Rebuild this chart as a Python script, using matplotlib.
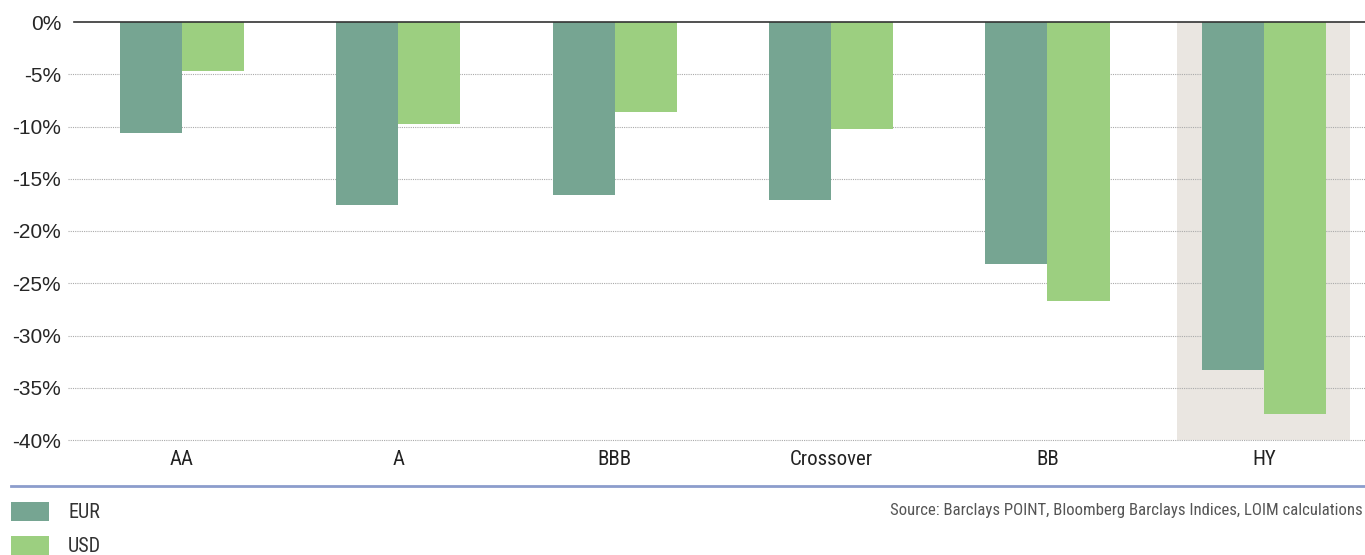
import matplotlib
matplotlib.use("Agg")
import matplotlib.pyplot as plt
import numpy as np
from matplotlib.patches import Rectangle
from matplotlib.lines import Line2D

plt.rcParams['font.family'] = ['Roboto Condensed', 'Roboto', 'DejaVu Sans']

categories = ["AA", "A", "BBB", "Crossover", "BB", "HY"]
eur = [-10.6, -17.5, -16.6, -17.0, -23.2, -33.3]
usd = [-4.7, -9.8, -8.6, -10.2, -26.7, -37.5]
series_names = ["EUR", "USD"]
yticks = [0, -5, -10, -15, -20, -25, -30, -35, -40]
source = "Source: Barclays POINT, Bloomberg Barclays Indices, LOIM calculations"

c_eur = "#76A592"
c_usd = "#9CCF80"

W, H = 1365, 555
fig = plt.figure(figsize=(W / 100, H / 100), dpi=100)
ax = fig.add_axes([68 / W, 1 - 440 / H, (1372 - 68) / W, (440 - 22) / H])

x = np.arange(len(categories))
bw = 0.287
ax.set_xlim(-0.527, 5.5)
ax.set_ylim(-40, 0)

# highlight band behind the high-yield group
ax.add_patch(Rectangle((x[-1] - 0.4, -40), 0.8, 40, facecolor="#EAE6E1",
                       edgecolor="none", zorder=0))

for yv in yticks[1:]:
    ax.axhline(yv, color="#AAAAAA", lw=0.8, ls=(0, (1, 1)), zorder=1, clip_on=False)
ax.plot([-0.5, 5.6], [0, 0], color="#333333", lw=1.2, zorder=4, clip_on=False)

ax.bar(x - bw / 2, eur, width=bw, color=c_eur, zorder=3, label=series_names[0])
ax.bar(x + bw / 2, usd, width=bw, color=c_usd, zorder=3, label=series_names[1])

for s in ax.spines.values():
    s.set_visible(False)
ax.set_yticks(yticks)
ax.set_yticklabels([f"{v}%" for v in yticks], fontsize=15, color="#262626",
                   family=['Liberation Sans', 'DejaVu Sans'])
ax.set_xticks(x)
ax.set_xticklabels(categories, fontsize=15, color="#222222")
ax.tick_params(axis="both", length=0)
ax.tick_params(axis="y", pad=5)
ax.tick_params(axis="x", pad=7)

# separator line above the legend and source
fig.add_artist(Line2D([11 / W, 1], [1 - 486 / H, 1 - 486 / H], color="#8C9DCC", lw=2))

# legend drawn as patches with labels
for i, (name, col) in enumerate(zip(series_names, [c_eur, c_usd])):
    ytop = 502 + i * 34
    fig.add_artist(Rectangle((11 / W, 1 - (ytop + 19) / H), 38 / W, 19 / H,
                             facecolor=col, edgecolor="none", transform=fig.transFigure))
    fig.text(68 / W, 1 - (ytop + 10) / H, name, fontsize=14.5, color="#333333",
             va="center", ha="left")

fig.text(1363 / W, 1 - 511 / H, source, fontsize=12.1, color="#555555",
         va="center", ha="right")

fig.savefig("out.png", dpi=100)
